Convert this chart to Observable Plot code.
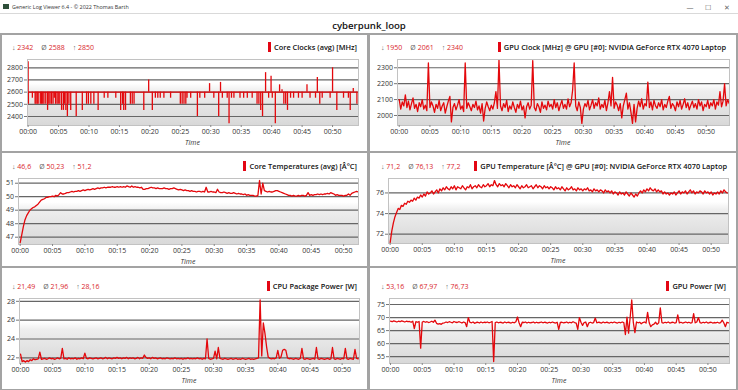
<!DOCTYPE html>
<html>
<head>
<meta charset="utf-8">
<script src="https://cdn.jsdelivr.net/npm/d3@7"></script>
<script src="https://cdn.jsdelivr.net/npm/@observablehq/plot@0.6"></script>
<style>
html,body{margin:0;padding:0;}
body{width:738px;height:390px;overflow:hidden;position:relative;background:#fff;font-family:"Open Sans","Noto Sans",sans-serif;color:#222;}
.abs{position:absolute;}
#titlebar{left:0;top:0;width:738px;height:13px;background:#fff;border-bottom:1px solid #d9d9d9;}
#apptitle{left:12px;top:7px;transform:translateY(-50%);font-size:5.4px;color:#333;white-space:nowrap;}
#icon{left:3px;top:4px;width:6px;height:5px;background:#2f4f3a;}
.ctl{top:7px;transform:translate(-50%,-50%);font-size:7px;color:#666;}
#logname{left:369px;top:25px;transform:translate(-50%,-50%);font-size:9.6px;font-weight:600;color:#111;white-space:nowrap;}
#grid{left:0;top:33px;width:738px;height:357px;background:#a3a3a3;}
.panel{background:#fff;}
.stats{font-size:7px;white-space:nowrap;transform:translateY(-50%);display:flex;gap:8px;}
.stats .s{color:#666;} .stats .v{color:#d9262c;}
.ttl{font-size:7.4px;font-weight:600;white-space:nowrap;transform:translateY(-50%);display:flex;align-items:center;color:#111;}
.ttl i{display:inline-block;width:3px;height:10px;background:#e30613;margin-right:3px;}
.time{font-size:7px;font-style:italic;color:#333;transform:translate(-50%,-50%);white-space:nowrap;}
svg.p{position:absolute;overflow:visible;}
</style>
</head>
<body>
<div id="titlebar" class="abs"></div>
<div id="icon" class="abs"></div>
<div id="apptitle" class="abs">Generic Log Viewer 6.4 - © 2022 Thomas Barth</div>
<div class="abs ctl" style="left:690px">—</div>
<div class="abs ctl" style="left:708px">☐</div>
<div class="abs ctl" style="left:727px">✕</div>
<div id="logname" class="abs">cyberpunk_loop</div>
<div id="grid" class="abs"></div>
<script>
// ---------------- DATA ----------------
const STEP = 0.25; // minutes between samples
const xTicks = [0, 5, 10, 15, 20, 25, 30, 35, 40, 45, 50];

const panelTitles = [
  "Core Clocks (avg) [MHz]",
  "GPU Clock [MHz] @ GPU [#0]: NVIDIA GeForce RTX 4070 Laptop",
  "Core Temperatures (avg) [Â°C]",
  "GPU Temperature [Â°C] @ GPU [#0]: NVIDIA GeForce RTX 4070 Laptop",
  "CPU Package Power [W]",
  "GPU Power [W]"
];
const statMin = ["2342", "1950", "46,6", "71,2", "21,49", "53,16"];
const statAvg = ["2588", "2061", "50,23", "76,13", "21,96", "67,97"];
const statMax = ["2850", "2340", "51,2", "77,2", "28,16", "76,73"];

const yTicksCoreClock = [2400, 2500, 2600, 2700, 2800];
const yTicksGpuClock = [2000, 2100, 2200, 2300];
const yTicksCoreTemp = [47, 48, 49, 50, 51];
const yTicksGpuTemp = [72, 74, 76];
const yTicksCpuPower = [22, 24, 26, 28];
const yTicksGpuPower = [55, 60, 65, 70, 75];

// Core clock: flat at 2600 MHz with excursions [minute, MHz]
const coreClockBase = 2600;
const coreClockEnd = 54.2;
const coreClockDips = [
  [0,2850],[0.05,2500],[0.7,2550],[1.15,2500],[1.3,2500],[1.5,2500],[1.65,2500],[2.0,2500],[2.2,2500],[2.4,2500],
  [2.6,2500],[2.9,2500],[3.2,2450],[3.4,2500],[3.6,2500],[3.85,2500],[4.1,2500],[4.3,2550],[4.5,2500],[4.75,2500],
  [4.95,2500],[5.2,2500],[5.5,2450],[5.8,2450],[5.95,2500],[6.2,2450],[6.45,2400],[6.7,2500],[7.0,2450],[7.9,2400],
  [8.9,2450],[9.6,2500],[9.9,2500],[10.3,2500],[10.8,2500],[11.5,2450],[12.5,2550],[13.1,2550],[14.4,2550],[15.2,2450],
  [15.5,2500],[15.7,2450],[16.0,2450],[16.8,2500],[17.1,2500],[17.4,2500],[19.0,2450],[19.8,2700],[20.4,2450],[20.9,2550],
  [21.3,2550],[21.7,2550],[22.3,2550],[23.4,2550],[25.0,2500],[25.3,2500],[25.6,2500],[25.9,2500],[26.1,2550],[26.7,2550],
  [27.8,2400],[28.2,2550],[29.0,2550],[29.8,2670],[30.5,2550],[31.3,2400],[31.6,2680],[31.9,2550],[32.7,2550],[33.0,2340],
  [33.4,2550],[33.8,2550],[34.8,2550],[35.4,2550],[36.0,2550],[36.8,2550],[37.6,2500],[37.9,2500],[38.2,2450],[38.5,2400],
  [39.0,2760],[39.5,2550],[39.9,2730],[40.1,2550],[40.6,2340],[41.3,2660],[41.7,2620],[42.0,2500],[42.3,2500],[42.6,2450],
  [43.1,2550],[43.6,2550],[44.4,2550],[45.0,2550],[45.8,2660],[46.3,2550],[47.2,2550],[47.5,2720],[47.9,2500],[48.3,2550],
  [49.6,2550],[50.0,2800],[50.7,2450],[51.8,2550],[52.6,2550],[52.9,2450],[53.4,2630],[54.0,2500]
];

// GPU clock [MHz], one sample every STEP minutes
const gpuClock = [
  2100,2040,2085,2060,2130,2050,2090,2035,2075,2110,2045,2070,
  2025,2080,2055,2100,2040,2065,2030,2330,2050,2085,2060,2020,
  2070,2045,2095,2030,2060,2080,2015,2055,2090,2120,1960,2050,
  2075,2035,2065,2100,2040,2060,2025,2330,2045,2080,2055,2030,
  2070,2050,2090,2035,2060,2015,2075,1965,2045,2085,2055,2030,
  2065,2040,2080,2150,2045,2350,2060,2030,2075,2050,2095,2025,
  2060,2040,2085,2050,2020,2070,2045,2090,2035,2060,1985,2055,
  2080,2040,2065,2345,2050,2030,2075,2055,2020,2085,2045,2065,
  2035,2090,2055,2070,2040,2100,2050,2080,2030,2065,2095,2045,
  2070,2040,2105,2055,2080,2160,2330,2060,2030,2085,2050,1950,
  2040,2075,2055,2095,2035,2065,2100,2045,2080,2060,2110,2040,
  2070,2050,2095,2030,2080,2150,2060,2240,2045,2085,2065,2030,
  2075,1985,2060,2100,2140,2040,2080,2020,1950,2070,1960,2045,
  2090,2055,2105,2040,2075,2060,2210,2050,2085,2035,2095,2060,
  2045,2080,2055,2100,2035,2070,2050,2090,2120,2045,2075,2060,
  2030,2085,2055,2095,2040,2070,2105,2050,2080,2035,2065,2090,
  2050,2075,2040,2100,2060,2085,2030,2070,2055,2095,2045,2080,
  2060,2100,2040,2085,2065,2150,2055,2090,2200,2060,2100,2075
];

// Core temperature (avg) [°C]
const coreTemp = [
  46.6,47.2,47.8,48.3,48.6,48.8,49.0,49.1,
  49.2,49.25,49.35,49.45,49.6,49.75,49.8,49.85,
  49.95,49.95,50.0,50.0,50.05,50.0,50.1,50.05,
  50.15,50.3,50.2,50.2,50.25,50.3,50.3,50.35,
  50.4,50.35,50.4,50.4,50.45,50.4,50.45,50.5,
  50.45,50.5,50.55,50.5,50.55,50.6,50.55,50.6,
  50.65,50.6,50.65,50.65,50.7,50.65,50.7,50.7,
  50.7,50.75,50.7,50.7,50.75,50.7,50.75,50.7,
  50.75,50.7,50.8,50.75,50.7,50.8,50.7,50.75,
  50.7,50.7,50.65,50.7,50.55,50.55,50.6,50.6,
  50.65,50.7,50.65,50.65,50.6,50.65,50.6,50.6,
  50.6,50.65,50.6,50.6,50.55,50.6,50.6,50.65,
  50.6,50.55,50.5,50.55,50.5,50.45,50.5,50.45,
  50.45,50.4,50.45,50.4,50.4,50.35,50.4,50.4,
  50.35,50.4,50.35,50.7,50.35,50.35,50.4,50.35,
  50.35,50.3,50.55,50.35,50.3,50.3,50.35,50.3,
  50.25,50.3,50.25,50.25,50.3,50.25,50.2,50.25,
  50.2,50.2,50.15,50.2,50.1,50.15,50.1,50.1,
  50.1,50.05,50.05,50.1,51.2,50.2,51.0,50.45,
  50.4,50.35,50.4,50.35,50.35,50.4,50.45,50.45,
  50.4,50.35,50.3,50.25,50.2,50.15,50.1,50.1,
  50.05,50.1,50.05,50.05,50.1,50.05,50.1,50.1,
  50.05,50.1,50.3,50.1,50.15,50.1,50.15,50.15,
  50.2,50.15,50.2,50.15,50.2,50.2,50.25,50.2,
  50.3,50.25,50.2,50.1,50.15,50.1,50.1,50.1,
  50.05,50.1,50.1,50.2,50.1,50.25,50.3,50.35,
  50.4,50.35
];

// GPU temperature [°C]
const gpuTemp = [
  71.2,72.3,73.1,73.7,74.1,74.5,74.4,74.8,74.7,75.0,74.9,75.2,
  75.1,75.3,75.2,75.5,75.3,75.6,75.5,75.8,75.6,75.9,75.7,76.1,
  75.9,76.0,76.2,75.9,76.1,76.3,76.0,76.4,76.2,76.5,76.3,76.6,
  76.4,76.3,76.6,76.4,76.7,76.3,76.6,76.5,76.4,76.7,76.5,76.3,
  76.6,76.5,76.8,76.4,76.6,76.7,76.5,76.8,76.6,76.5,76.8,76.6,
  76.7,76.9,76.6,76.8,76.7,77.2,76.8,76.6,76.9,76.7,76.8,76.6,
  76.9,76.7,76.5,76.8,76.6,76.7,76.5,76.8,76.6,76.4,76.7,76.5,
  76.6,76.8,76.5,76.6,76.7,76.4,76.6,76.8,76.5,76.7,76.6,76.4,
  76.7,76.5,76.6,76.4,76.6,76.5,76.3,76.6,76.4,76.5,76.3,76.6,
  76.4,76.2,76.5,76.3,76.4,76.6,76.3,76.4,76.2,76.5,76.3,76.4,
  76.2,76.4,76.3,76.5,76.2,76.3,76.1,76.4,76.2,76.3,76.1,76.3,
  76.2,76.0,76.3,76.1,76.2,76.0,76.2,75.9,76.1,76.0,75.8,76.1,
  75.9,76.0,75.8,76.1,75.9,75.7,76.0,75.8,75.6,75.9,75.7,76.0,
  76.2,76.0,76.3,76.1,76.4,76.2,76.5,76.3,76.2,76.4,76.1,76.3,
  76.1,76.2,75.9,76.1,75.9,76.0,75.8,76.0,75.9,76.1,75.8,76.0,
  76.2,75.9,76.1,76.0,76.2,75.9,76.1,76.3,76.0,76.2,75.9,76.1,
  76.0,76.2,76.1,75.9,76.2,76.0,76.1,75.9,76.1,75.8,76.0,75.9,
  76.1,75.9,76.2,76.0,76.3,76.1,76.0
];

// CPU package power [W]
const cpuPower = [
  22.4,21.6,21.7,21.55,21.7,21.6,21.8,21.7,21.9,21.8,21.85,21.9,
  22.6,21.85,21.9,21.95,21.85,21.9,22.0,21.9,21.95,21.85,21.9,22.0,
  21.9,21.95,23.0,21.9,21.95,21.85,22.0,21.9,21.95,21.9,22.0,21.85,
  21.95,21.9,22.0,21.9,22.5,21.95,21.9,22.0,21.95,21.9,21.95,22.0,
  21.9,21.95,22.0,21.9,21.95,22.05,21.9,22.0,21.95,21.9,22.0,21.95,
  22.05,21.95,22.0,21.9,22.0,21.95,22.05,21.9,22.0,21.95,22.0,21.9,
  21.95,22.05,21.9,22.0,21.95,22.3,22.05,21.95,22.0,21.9,22.05,21.95,
  22.0,21.9,21.95,22.0,21.9,21.95,21.9,22.0,21.95,21.9,21.95,21.9,
  22.0,21.9,21.95,21.9,21.95,21.85,21.95,21.9,22.0,21.9,21.95,21.9,
  21.95,21.9,22.0,21.9,21.95,21.85,21.95,21.9,24.0,21.95,21.85,21.9,
  21.95,22.7,21.9,23.1,21.95,21.9,21.85,21.95,21.9,21.85,21.9,21.95,
  21.85,21.9,21.95,21.85,21.9,21.85,21.95,21.9,21.85,21.9,21.95,21.85,
  21.9,21.85,21.9,21.95,22.0,28.16,22.2,25.7,24.6,23.2,22.1,21.95,
  21.9,21.95,21.9,22.0,22.8,21.95,22.1,22.8,22.9,22.8,22.0,21.9,
  21.95,21.9,21.85,21.95,21.9,21.85,21.95,23.0,21.9,21.85,21.95,21.9,
  21.85,21.9,21.95,21.85,23.1,21.9,21.85,21.95,21.9,21.85,21.9,21.95,
  21.85,21.9,23.1,21.9,21.85,21.95,21.9,21.85,21.95,21.9,23.0,21.9,
  21.85,21.95,21.9,21.85,22.9,21.95,21.9
];

// GPU power [W]
const gpuPower = [
  68.6,68.4,68.7,68.5,68.3,68.6,68.4,68.7,68.5,68.3,68.6,68.4,
  68.5,68.2,68.6,65.8,68.4,68.2,68.5,58.3,68.3,68.5,68.2,68.4,
  68.1,68.3,68.6,68.2,69.0,67.8,67.5,67.7,67.4,67.9,68.0,68.3,
  68.1,68.4,68.2,68.0,68.5,68.2,68.1,68.4,68.2,67.9,68.3,68.1,
  66.5,70.0,68.2,68.0,68.3,67.8,68.1,68.2,67.9,68.3,68.0,68.2,
  68.1,68.3,68.0,68.2,68.5,53.16,68.1,68.3,68.0,68.2,68.1,67.9,
  68.3,68.0,68.2,68.1,67.9,68.2,68.0,68.4,70.2,68.0,66.5,68.2,
  68.1,68.3,67.9,68.2,68.0,68.1,68.3,67.9,68.2,68.0,68.1,68.3,
  68.0,68.2,68.1,67.9,68.2,68.0,68.3,68.1,67.9,68.2,65.5,68.1,
  68.2,68.0,68.1,68.3,67.9,68.2,68.0,68.4,68.1,67.9,65.5,70.0,
  68.2,67.0,68.1,68.3,66.5,68.0,68.2,67.9,68.1,69.8,68.0,68.2,
  68.1,67.9,68.3,68.0,68.2,68.1,67.9,68.2,68.0,68.3,68.1,67.9,
  68.2,68.0,68.3,68.1,63.5,70.2,64.0,70.0,76.73,68.1,64.2,68.3,
  68.0,68.2,67.6,68.1,68.3,67.9,72.0,68.0,66.5,67.2,67.5,68.2,
  67.4,68.0,73.7,68.1,67.9,68.2,68.0,68.3,67.9,68.1,68.2,67.9,
  68.1,71.0,68.0,68.2,67.9,68.1,68.3,68.0,68.2,67.9,68.1,71.5,
  68.0,68.3,70.0,68.1,67.9,68.2,68.0,68.3,67.9,68.1,68.2,67.9,
  68.1,68.0,68.2,67.9,68.1,69.0,68.0,66.5,68.2,68.0
];

// ---------------- LAYOUT ----------------
const RED = "#e4080c";
const layout = {
  panels: [[2,35,367,151],[370,35,736,151],[2,153,367,266],[370,153,736,266],[2,268,367,389],[370,268,736,389]],
  plots:  [[27,59,358,125],[397,59,729,125],[18,178,358,244],[388,178,728,243],[19,298,359,363],[389,298,729,363]],
  headY:  [47,47,166,166,286,286],
  statX:  [12,381,12,381,12,381],
  titleR: [357,726,357,727,357,726],
  xDom:   [[-0.1,54.26],[-0.28,53.8],[-0.26,52.3],[-0.26,52.7],[-0.16,52.7],[-0.16,53.4]],
  yDom:   [[2326,2868],[1937,2352],[46.46,51.35],[71.1,77.4],[21.4,28.3],[52.4,77.3]]
};
const yTicksAll = [yTicksCoreClock, yTicksGpuClock, yTicksCoreTemp, yTicksGpuTemp, yTicksCpuPower, yTicksGpuPower];
const seriesAll = [null, gpuClock, coreTemp, gpuTemp, cpuPower, gpuPower];
const fmtTime = m => "00:" + String(m).padStart(2, "0");
const fmtY = v => String(v);

const body = document.body;
function addDiv(cls, css, html) {
  const d = document.createElement("div");
  d.className = "abs " + cls;
  Object.assign(d.style, css);
  d.innerHTML = html || "";
  body.appendChild(d);
  return d;
}

layout.panels.forEach((b, i) => {
  addDiv("panel", {left: b[0] + "px", top: b[1] + "px", width: (b[2] - b[0]) + "px", height: (b[3] - b[1]) + "px"});
});

layout.plots.forEach((r, i) => {
  const colX = i % 2 === 0 ? 0 : 368;
  const svgW = 368;
  const [x0, y0, x1, y1] = r;
  const mt = 4, mb = 24;
  const yt = yTicksAll[i];
  const marks = [
    Plot.frame({fill: `url(#bg${i})`, stroke: "none"}),
    Plot.ruleY(yt, {stroke: "#666", strokeWidth: 1.2})
  ];
  if (i === 0) {
    marks.push(Plot.ruleY([coreClockBase], {x1: 0, x2: coreClockEnd, stroke: RED, strokeWidth: 1.3, clip: true}));
    marks.push(Plot.ruleX(coreClockDips, {x: d => d[0], y1: coreClockBase, y2: d => d[1], stroke: RED, strokeWidth: 1.3, clip: true}));
  } else {
    marks.push(Plot.lineY(seriesAll[i], {x: (d, k) => k * STEP, y: d => d, stroke: RED, strokeWidth: 1.3, clip: true}));
  }
  marks.push(Plot.frame({stroke: "#c2c2c2"}));
  marks.push(Plot.axisY({ticks: yt, tickSize: 3, tickPadding: 1.5, tickFormat: fmtY, color: "#333", stroke: "#777", label: null}));
  marks.push(Plot.axisX({ticks: xTicks, tickSize: 2, tickPadding: 2, tickFormat: fmtTime, color: "#333", stroke: "#888", label: null}));
  const svg = Plot.plot({
    width: svgW,
    height: mt + (y1 - y0) + mb,
    marginLeft: x0 - colX,
    marginRight: colX + svgW - x1,
    marginTop: mt,
    marginBottom: mb,
    x: {domain: layout.xDom[i]},
    y: {domain: layout.yDom[i]},
    style: {fontFamily: "'Open Sans','Noto Sans',sans-serif", fontSize: "7px", background: "transparent", color: "#333"},
    marks
  });
  const defs = d3.select(svg).insert("defs", ":first-child");
  const g = defs.append("linearGradient").attr("id", "bg" + i).attr("x1", 0).attr("y1", 0).attr("x2", 0).attr("y2", 1);
  [[0, "#ffffff"], [0.36, "#ffffff"], [0.48, "#eeeeee"], [1, "#d8d8d8"]].forEach(([o, c]) =>
    g.append("stop").attr("offset", o).attr("stop-color", c));
  svg.classList.add("p");
  svg.style.left = colX + "px";
  svg.style.top = (y0 - mt) + "px";
  body.appendChild(svg);

  addDiv("time", {left: ((x0 + x1) / 2) + "px", top: (y1 + 17) + "px"}, "Time");
  addDiv("stats", {left: layout.statX[i] + "px", top: layout.headY[i] + "px"},
    `<span><span class="s">↓</span> <span class="v">${statMin[i]}</span></span>` +
    `<span><span class="s">Ø</span> <span class="v">${statAvg[i]}</span></span>` +
    `<span><span class="s">↑</span> <span class="v">${statMax[i]}</span></span>`);
  addDiv("ttl", {right: (738 - layout.titleR[i]) + "px", top: layout.headY[i] + "px"}, `<i></i>${panelTitles[i]}`);
});
</script>
</body>
</html>
